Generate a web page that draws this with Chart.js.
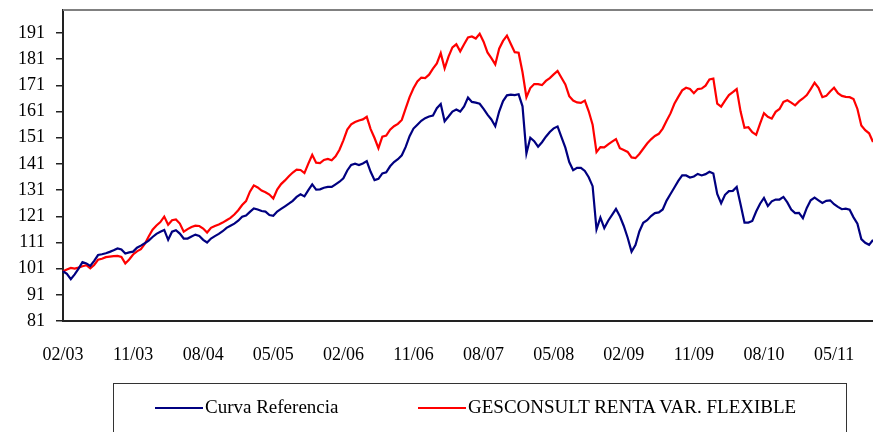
<!DOCTYPE html>
<html lang="es">
<head>
<meta charset="UTF-8">
<title>Curva Referencia vs GESCONSULT RENTA VAR. FLEXIBLE</title>
<style>
    body { margin: 0; background: #fff; }
    .wrap { position: relative; width: 873px; height: 432px; overflow: hidden; }
    .legend {
        position: absolute; left: 113px; top: 383px; width: 734px; height: 80px;
        border: 1px solid #333; box-sizing: border-box;
        font-family: "Liberation Serif", "DejaVu Serif", serif; font-size: 19px; color: #000;
    }
    .legend .item { position: absolute; top: 12px; white-space: nowrap; }
    .legend .swatch { display: inline-block; width: 48px; height: 2px; vertical-align: middle; margin-right: 2px; position: relative; top: -1px; }
</style>
</head>
<body>
<div class="wrap">
    <canvas id="chart" width="873" height="432"></canvas>
    <div class="legend" id="legend"></div>
</div>

<script src="https://cdn.jsdelivr.net/npm/chart.js@4/dist/chart.umd.min.js"></script>
<script>
// series names and colours
const seriesNames = ['Curva Referencia', 'GESCONSULT RENTA VAR. FLEXIBLE'];
const seriesColors = ['#000080', '#ff0000'];

// y axis ticks
const yTicks = [81, 91, 101, 111, 121, 131, 141, 151, 161, 171, 181, 191];

// two points per month, starting 02/2003
const startYear = 2003, startMonth = 2, pointsCount = 209;
const labels = [];
for (let k = 0; k < pointsCount; k++) {
    const m = startMonth - 1 + Math.floor(k / 2);
    const mm = String(m % 12 + 1).padStart(2, '0');
    const yy = String((startYear + Math.floor(m / 12)) % 100).padStart(2, '0');
    labels.push(mm + '/' + yy);
}
const labelEvery = 18; // one label every 9 months

// Curva Referencia
const curvaReferencia = [
    100, 99, 97, 98.8, 101, 103.5, 103, 102, 104, 106.2,
    106.5, 106.9, 107.4, 108, 108.7, 108.3, 106.8, 107.2, 107.5, 109,
    109.8, 110.7, 111.7, 113.1, 114.3, 115.1, 115.8, 112, 115.1, 115.7,
    114.4, 112.5, 112.5, 113.3, 114, 113.5, 112, 111, 112.5, 113.4,
    114.3, 115.3, 116.6, 117.4, 118.2, 119.3, 120.8, 121.3, 122.7, 124,
    123.6, 123, 122.8, 121.5, 121.2, 122.8, 123.8, 124.8, 125.8, 126.9,
    128.4, 129.4, 128.6, 131, 133.2, 131.2, 131.3, 131.9, 132.2, 132.2,
    133.2, 134.2, 135.5, 138.5, 140.6, 141.1, 140.6, 141.2, 142.1, 138,
    134.8, 135.3, 137.4, 137.8, 140.1, 141.7, 142.8, 144.3, 147.5, 151.6,
    154.5, 156, 157.5, 158.5, 159.1, 159.5, 162.3, 163.9, 157.3, 159.1,
    161, 161.8, 161, 163, 166.4, 164.7, 164.4, 164, 162, 159.8,
    158, 155.4, 161, 165, 167.2, 167.5, 167.3, 167.6, 163, 145,
    151, 149.7, 147.6, 149.3, 151.4, 153.2, 154.6, 155.3, 151.2, 147.2,
    141.7, 138.6, 139.5, 139.5, 138.3, 135.9, 132.5, 116, 120.5, 116.5,
    119.3, 121.5, 123.8, 121, 117.3, 112.8, 107.5, 110, 115.2, 118.5,
    119.5, 121.1, 122.2, 122.5, 123.6, 127, 129.5, 132, 134.5, 136.6,
    136.6, 135.8, 136.2, 137.2, 136.6, 137.1, 138, 137.3, 129.5, 126,
    129.2, 130.6, 130.7, 132.2, 125.5, 118.6, 118.6, 119.2, 122.8, 125.8,
    128, 124.9, 126.7, 127.4, 127.4, 128.4, 126.3, 123.6, 122.2, 122.3,
    120.3, 124.2, 127.1, 128.1, 127.1, 126.1, 126.9, 127.1, 125.6, 124.6,
    123.7, 123.9, 123.5, 120.6, 118.2, 112.3, 110.9, 110.1, 112
];

// GESCONSULT RENTA VAR. FLEXIBLE
const gesconsult = [
    100, 100.7, 101.3, 101, 101.4, 101.9, 102.3, 101.1, 102.4, 104.4,
    104.8, 105.4, 105.6, 105.8, 105.9, 105.5, 103, 104.5, 106.4, 107.6,
    108.4, 110.4, 113.3, 115.9, 117.5, 118.8, 120.9, 117.8, 119.5, 119.8,
    118.2, 115.1, 116.1, 116.9, 117.4, 117.3, 116.3, 114.8, 116.6, 117.3,
    117.9, 118.6, 119.5, 120.4, 121.7, 123.3, 125.3, 126.8, 130.4, 132.8,
    132, 130.8, 130.2, 129.3, 127.8, 131.2, 133.3, 134.7, 136.3, 137.7,
    138.8, 138.7, 137.5, 141.1, 144.5, 141.5, 141.3, 142.5, 142.9, 142.4,
    143.9, 146.4, 150, 154.1, 156.1, 157, 157.6, 158, 159, 154.3,
    150.9, 147, 151.4, 151.8, 154.1, 155.4, 156.3, 157.8, 162.2, 166.5,
    169.9, 172.5, 174, 173.8, 175.1, 177.4, 179.4, 183.3, 177.5, 182,
    185.5, 186.7, 184, 186.7, 189.3, 189.7, 188.9, 190.7, 187.7, 183.6,
    181.4, 179, 185, 188, 190, 186.8, 183.7, 183.5, 176, 166.5,
    170, 171.5, 171.5, 171.1, 172.7, 173.8, 175.2, 176.5, 173.9, 171.4,
    166.9, 165.2, 164.5, 164.3, 165.2, 161.1, 156, 145.5, 147.4, 147.3,
    148.5, 149.5, 150.5, 147, 146.3, 145.6, 143.5, 143.2, 144.8, 146.8,
    148.8, 150.4, 151.7, 152.5, 154.5, 157.5, 160.3, 164, 166.6, 169.1,
    170.1, 169.6, 168, 169.6, 169.8, 170.9, 173.3, 173.6, 164, 162.9,
    165.2, 167.3, 168.4, 169.6, 161, 154.8, 155, 153.1, 152.1, 156.4,
    160.4, 159, 158.3, 160.9, 162, 164.7, 165.3, 164.4, 163.4, 164.9,
    166, 167.3, 169.6, 172, 170.1, 166.5, 167, 168.7, 170.1, 168,
    167, 166.6, 166.5, 165.8, 162, 155.7, 153.9, 152.7, 149.4
];

const serifFont = '"Liberation Serif", "DejaVu Serif", serif';

// grey frame line on top of the plot area
const topFrame = {
    id: 'topFrame',
    afterDraw(chart) {
        const { ctx, chartArea } = chart;
        ctx.save();
        ctx.strokeStyle = '#808080';
        ctx.lineWidth = 2;
        ctx.beginPath();
        ctx.moveTo(chartArea.left, chartArea.top);
        ctx.lineTo(chartArea.right, chartArea.top);
        ctx.stroke();
        ctx.restore();
    }
};

new Chart(document.getElementById('chart'), {
    type: 'line',
    data: {
        labels: labels,
        datasets: [
            { label: seriesNames[0], data: curvaReferencia, borderColor: seriesColors[0], backgroundColor: seriesColors[0] },
            { label: seriesNames[1], data: gesconsult, borderColor: seriesColors[1], backgroundColor: seriesColors[1] }
        ]
    },
    options: {
        responsive: false,
        animation: false,
        layout: { padding: { top: 10, right: 0, bottom: 0, left: 0 } },
        elements: {
            point: { radius: 0 },
            line: { borderWidth: 2.2, tension: 0 }
        },
        plugins: { legend: { display: false }, tooltip: { enabled: false } },
        scales: {
            x: {
                offset: false,
                grid: { display: false },
                border: { display: true, color: '#222', width: 2 },
                ticks: {
                    autoSkip: false,
                    maxRotation: 0,
                    padding: 15,
                    color: '#000',
                    font: { family: serifFont, size: 18 },
                    callback: (v, i) => (i % labelEvery === 0 ? labels[i] : null)
                },
                afterFit: s => { s.height = 111; s.paddingLeft = 0; s.paddingRight = 0; }
            },
            y: {
                min: 81,
                max: 199.8,
                grid: { drawOnChartArea: false, tickLength: 7, color: '#222', lineWidth: 1.5 },
                border: { display: true, color: '#222', width: 2 },
                ticks: { padding: 11, color: '#000', font: { family: serifFont, size: 18 } },
                afterBuildTicks: s => { s.ticks = yTicks.map(v => ({ value: v })); },
                afterFit: s => { s.width = 63; s.paddingTop = 0; s.paddingBottom = 0; }
            }
        }
    },
    plugins: [topFrame]
});

// legend box at the bottom
const legend = document.getElementById('legend');
const legendLeft = [41, 304];
seriesNames.forEach((name, i) => {
    const item = document.createElement('div');
    item.className = 'item';
    item.style.left = legendLeft[i] + 'px';
    item.innerHTML = '<span class="swatch" style="background:' + seriesColors[i] + '"></span>' + name;
    legend.appendChild(item);
});
</script>
</body>
</html>
